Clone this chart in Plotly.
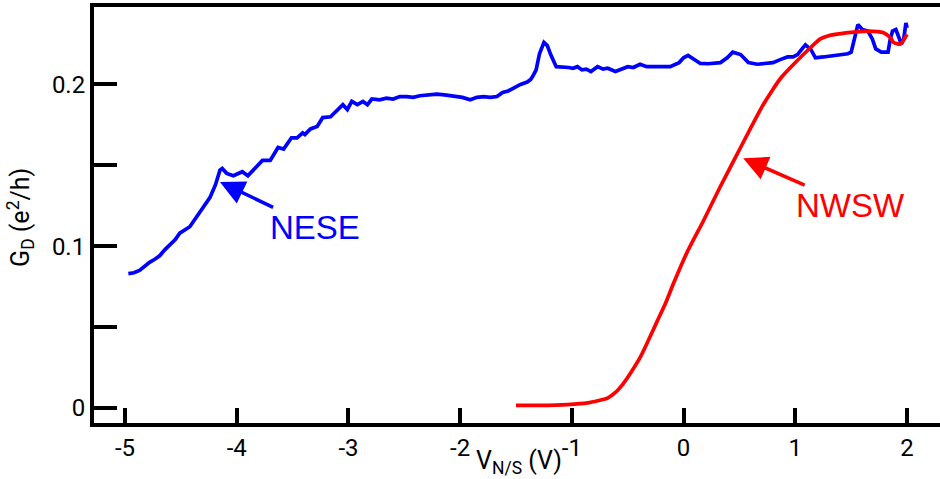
import plotly.graph_objects as go

# ---- data ----
nese_x = [-4.97, -4.92, -4.87, -4.82, -4.78, -4.73, -4.69, -4.64, -4.60, -4.55, -4.51, -4.46, -4.42, -4.38,
          -4.33, -4.28, -4.24, -4.19, -4.15, -4.13, -4.09, -4.03, -3.95, -3.90, -3.85, -3.77, -3.70, -3.63,
          -3.58, -3.51, -3.46, -3.41, -3.39, -3.34, -3.28, -3.23, -3.16, -3.12, -3.05, -3.01, -2.97, -2.92,
          -2.87, -2.83, -2.79, -2.72, -2.66, -2.60, -2.54, -2.48, -2.42, -2.36, -2.28, -2.21, -2.14, -2.06,
          -1.98, -1.91, -1.85, -1.79, -1.73, -1.67, -1.62, -1.57, -1.53, -1.46, -1.40, -1.37, -1.35, -1.32,
          -1.29, -1.25, -1.22, -1.19, -1.14, -1.08, -1.03, -0.99, -0.95, -0.91, -0.87, -0.83, -0.77, -0.72,
          -0.68, -0.61, -0.56, -0.50, -0.45, -0.39, -0.33, -0.27, -0.20, -0.12, -0.04, 0.00, 0.04, 0.09,
          0.15, 0.22, 0.28, 0.33, 0.39, 0.44, 0.51, 0.58, 0.66, 0.73, 0.80, 0.87, 0.93, 0.98, 1.02, 1.06,
          1.09, 1.14, 1.18, 1.25, 1.32, 1.40, 1.47, 1.50, 1.53, 1.56, 1.60, 1.65, 1.69, 1.72, 1.77, 1.83,
          1.85, 1.87, 1.90, 1.93, 1.95, 1.97, 1.98, 1.99, 2.00]
nese_y = [0.083, 0.0835, 0.085, 0.088, 0.090, 0.092, 0.094, 0.098, 0.101, 0.104, 0.108, 0.110, 0.112, 0.116,
          0.121, 0.125, 0.130, 0.138, 0.147, 0.148, 0.145, 0.1435, 0.146, 0.1435, 0.147, 0.153, 0.153, 0.161,
          0.160, 0.167, 0.167, 0.170, 0.169, 0.1725, 0.174, 0.1795, 0.180, 0.1825, 0.1875, 0.1845, 0.1895, 0.1875,
          0.1895, 0.1875, 0.191, 0.1905, 0.1915, 0.191, 0.1925, 0.1925, 0.192, 0.193, 0.1935, 0.194, 0.1935, 0.193,
          0.192, 0.1905, 0.192, 0.1925, 0.192, 0.1925, 0.195, 0.196, 0.1975, 0.200, 0.2015, 0.203, 0.205, 0.209,
          0.219, 0.226, 0.224, 0.2185, 0.211, 0.211, 0.2105, 0.210, 0.211, 0.209, 0.2095, 0.208, 0.211, 0.2095,
          0.210, 0.208, 0.2095, 0.211, 0.2105, 0.2125, 0.211, 0.211, 0.2105, 0.211, 0.2135, 0.2165, 0.218, 0.2155,
          0.213, 0.2128, 0.213, 0.2135, 0.2165, 0.220, 0.2185, 0.2135, 0.2125, 0.213, 0.2135, 0.2155, 0.217, 0.217,
          0.2185, 0.222, 0.2245, 0.2215, 0.2165, 0.217, 0.2175, 0.2185, 0.219, 0.220, 0.228, 0.237, 0.234, 0.233,
          0.228, 0.222, 0.220, 0.220, 0.228, 0.233, 0.234, 0.229, 0.225, 0.228, 0.232, 0.238, 0.235]

nwsw_x = [-1.50, -1.30, -1.04, -0.86, -0.76, -0.68, -0.61, -0.54, -0.47, -0.39, -0.32, -0.24, -0.16, -0.09,
          0.03, 0.18, 0.33, 0.42, 0.51, 0.60, 0.70, 0.79, 0.87, 0.95, 1.02, 1.14, 1.22, 1.29, 1.47, 1.65,
          1.79, 1.85, 1.88, 1.94, 2.00]
nwsw_y = [0.0015, 0.0015, 0.002, 0.003, 0.0045, 0.006, 0.0095, 0.015, 0.022, 0.031, 0.041, 0.053, 0.065, 0.077,
          0.096, 0.116, 0.137, 0.149, 0.161, 0.173, 0.186, 0.196, 0.204, 0.210, 0.215, 0.223, 0.228, 0.230, 0.232,
          0.233, 0.232, 0.229, 0.226, 0.225, 0.231]

x_ticks = [-5, -4, -3, -2, -1, 0, 1, 2]
x_tick_text = ["-5", "-4", "-3", "-2", "-1", "0", "1", "2"]
y_ticks = [0, 0.1, 0.2]
y_tick_text = ["0", "0.1", "0.2"]
y_minor_ticks = [0.05, 0.15]

x_title = "V<sub>N/S</sub> (V)"
y_title = "G<sub>D</sub> (e<sup>2</sup>/h)"

BLUE = "#0000FF"
RED = "#FF0000"

fig = go.Figure()
fig.add_trace(go.Scatter(x=nese_x, y=nese_y, mode="lines", name="NESE",
                         line=dict(color=BLUE, width=3.7)))
fig.add_trace(go.Scatter(x=nwsw_x, y=nwsw_y, mode="lines", name="NWSW",
                         line=dict(color=RED, width=3.7, shape="spline", smoothing=0.6)))

tick_font = dict(family="Roboto", size=24, color="black")
title_font = dict(family="Roboto", size=25, color="black")

fig.update_layout(
    width=940, height=479,
    margin=dict(l=94, r=0, t=7, b=56),
    paper_bgcolor="white", plot_bgcolor="white",
    showlegend=False,
    xaxis=dict(range=[-5.2775, 2.295], tickvals=x_ticks, ticktext=x_tick_text,
               ticks="inside", ticklen=15, tickwidth=3.5, tickcolor="black",
               showline=True, linewidth=4, linecolor="black", mirror=True,
               showgrid=False, zeroline=False, tickfont=tick_font, automargin=False),
    yaxis=dict(range=[-0.0094, 0.2479], tickvals=y_ticks, ticktext=y_tick_text,
               ticks="inside", ticklen=23, tickwidth=3.5, tickcolor="black",
               minor=dict(tickvals=y_minor_ticks, ticks="inside", ticklen=23,
                          tickwidth=3.5, tickcolor="black", showgrid=False),
               showline=True, linewidth=4, linecolor="black", mirror=False,
               showgrid=False, zeroline=False, tickfont=tick_font, automargin=False),
)

# axis titles
fig.add_annotation(x=0.502, y=-0.094, xref="paper", yref="paper", xanchor="center", yanchor="middle",
                   text=x_title, showarrow=False, font=title_font, borderpad=0)
fig.add_annotation(x=-0.0865, y=0.495, xref="paper", yref="paper", xanchor="center", yanchor="middle",
                   text=y_title, textangle=-90, showarrow=False, font=title_font, borderpad=0)

ann_font = "Liberation Sans"
# NESE label with arrow (text centred at the arrow tail)
fig.add_annotation(x=-4.15, y=0.1397, ax=-3.30, ay=0.1116, xref="x", yref="y", axref="x", ayref="y",
                   text="NESE", showarrow=True, arrowhead=2, arrowsize=1.4, arrowwidth=3.5,
                   arrowcolor=BLUE, font=dict(family=ann_font, size=33, color=BLUE))
# NWSW label with arrow
fig.add_annotation(x=0.533, y=0.1544, ax=1.49, ay=0.1253, xref="x", yref="y", axref="x", ayref="y",
                   text="NWSW", showarrow=True, arrowhead=2, arrowsize=1.4, arrowwidth=3.5,
                   arrowcolor=RED, font=dict(family=ann_font, size=33, color=RED))

fig.write_html("out.html")
